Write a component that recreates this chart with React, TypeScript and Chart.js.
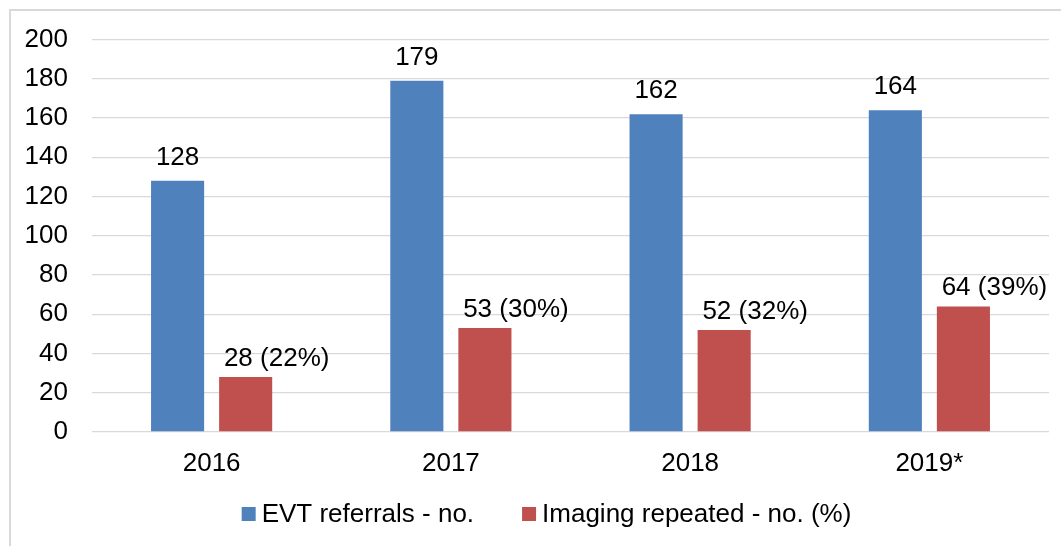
import React, { useEffect, useRef } from "react";
import { Chart, registerables } from "chart.js";

Chart.register(...registerables);

const categories = ["2016", "2017", "2018", "2019*"];
const evtReferrals = [128, 179, 162, 164];
const imagingRepeated = [28, 53, 52, 64];
const imagingPercent = [22, 30, 32, 39];
const yTicks = { min: 0, max: 200, step: 20 };
const seriesNames = ["EVT referrals - no.", "Imaging repeated - no. (%)"];

const FONT = "'Liberation Sans', Arial, Helvetica, sans-serif";
const FS = 26;
const BLUE = "#4F81BD";
const RED = "#C0504D";

const labelPlugin = {
  id: "barLabels",
  afterDatasetsDraw(chart: any) {
    const ctx = chart.ctx;
    ctx.save();
    ctx.font = `${FS}px ${FONT}`;
    ctx.fillStyle = "#000";
    ctx.textBaseline = "alphabetic";
    ctx.textAlign = "center";
    chart.data.datasets.forEach((ds: any, di: number) => {
      const meta = chart.getDatasetMeta(di);
      meta.data.forEach((bar: any, i: number) => {
        const v = ds.data[i];
        if (di === 0) {
          ctx.fillText(String(v), bar.x, bar.y - 16);
        } else {
          ctx.fillText(`${v} (${imagingPercent[i]}%)`, bar.x + 31, bar.y - 11);
        }
      });
    });
    ctx.restore();
  },
};

const legendPlugin = {
  id: "customLegend",
  afterDraw(chart: any) {
    const ctx = chart.ctx;
    ctx.save();
    ctx.font = `${FS}px ${FONT}`;
    ctx.textBaseline = "middle";
    ctx.textAlign = "left";
    const box = 14;
    const gapText = 6;
    const gapItem = 48;
    const colors = [BLUE, RED];
    const widths = seriesNames.map((n) => ctx.measureText(n).width);
    const total =
      widths.reduce((a, b) => a + b, 0) + seriesNames.length * (box + gapText) + gapItem * (seriesNames.length - 1);
    let x = 546.5 - total / 2;
    const yc = 514;
    seriesNames.forEach((n, i) => {
      ctx.fillStyle = colors[i];
      ctx.fillRect(x, yc - box / 2, box, box);
      ctx.fillStyle = "#000";
      ctx.fillText(n, x + box + gapText, yc + 1);
      x += box + gapText + widths[i] + gapItem;
    });
    ctx.restore();
  },
};

export default function App() {
  const ref = useRef<HTMLCanvasElement | null>(null);
  useEffect(() => {
    if (!ref.current) return;
    const chart = new Chart(ref.current, {
      type: "bar",
      data: {
        labels: categories,
        datasets: [
          {
            label: seriesNames[0],
            data: evtReferrals,
            backgroundColor: BLUE,
            categoryPercentage: 0.569,
            barPercentage: 0.78,
          },
          {
            label: seriesNames[1],
            data: imagingRepeated,
            backgroundColor: RED,
            categoryPercentage: 0.569,
            barPercentage: 0.78,
          },
        ],
      },
      options: {
        responsive: false,
        animation: false,
        maintainAspectRatio: false,
        layout: { padding: { left: 0, right: 12, top: 22, bottom: 54 } },
        plugins: {
          legend: { display: false },
          tooltip: { enabled: false },
        },
        scales: {
          x: {
            grid: { display: false, drawTicks: false },
            border: { display: false },
            ticks: { color: "#000", font: { family: FONT, size: FS }, padding: 16, maxRotation: 0 },
            afterFit: (s: any) => {
              s.height = 60;
            },
          },
          y: {
            min: yTicks.min,
            max: yTicks.max,
            grid: { color: "#d9d9d9", lineWidth: 1.3, drawTicks: false },
            border: { display: false },
            ticks: {
              stepSize: yTicks.step,
              color: "#000",
              font: { family: FONT, size: FS },
              padding: 24,
            },
            afterFit: (s: any) => {
              s.width = 92;
            },
          },
        },
      },
      plugins: [labelPlugin, legendPlugin],
    });
    return () => chart.destroy();
  }, []);

  return (
    <div style={{ position: "fixed", left: 0, top: 0, width: 1061, height: 546, overflow: "hidden", background: "#fff" }}>
      <div
        style={{
          position: "absolute",
          left: 9,
          top: 9,
          width: 1200,
          height: 700,
          border: "2px solid #d9d9d9",
          boxSizing: "border-box",
        }}
      />
      <canvas
        ref={ref}
        width={1061}
        height={546}
        style={{ position: "absolute", left: 0, top: 0, width: 1061, height: 546 }}
      />
    </div>
  );
}
